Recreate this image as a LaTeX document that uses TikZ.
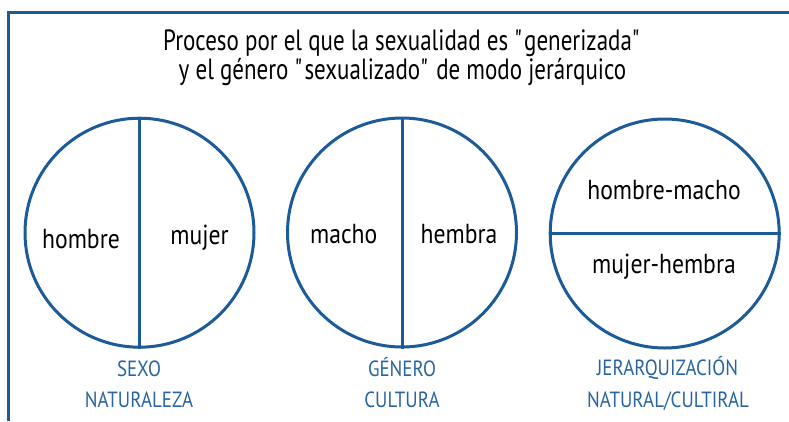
\documentclass[tikz,border=0pt]{standalone}
\usepackage{fontspec}
\setmainfont[FakeStretch=0.86]{PT Sans}
\newfontfamily\titlefont[FakeStretch=0.785]{PT Sans}
\definecolor{dblue}{RGB}{28,90,152}
\definecolor{lblue}{RGB}{40,100,160}
\begin{document}
\begin{tikzpicture}[x=1pt,y=-1pt,
  ring/.style={circle,draw=dblue,line width=3pt,minimum size=229pt,inner sep=0pt},
  divider/.style={draw=dblue,line width=3pt},
  frame/.style={draw=dblue,line width=2.5pt},
  title/.style={anchor=base,inner sep=0pt,font=\titlefont\fontsize{29.3}{32}\selectfont,text=black},
  intext/.style={anchor=base,inner sep=0pt,font=\fontsize{27.5}{30}\selectfont,text=black},
  caption/.style={anchor=base,inner sep=0pt,font=\fontsize{22}{26}\selectfont,text=lblue}]
\useasboundingbox (0,0) rectangle (789,421);
\coordinate (ftop) at (8.5,12.7);
\coordinate (fright) at (789,12.7);
\coordinate (fbot) at (8.5,421);
\draw[frame] (fright) -- (ftop) -- (fbot);
\node[title] (t1) at (402.5,50.7) {Proceso por el que la sexualidad es \textquotedbl generizada\textquotedbl};
\node[title] (t2) at (402.5,79.3) {y el género \textquotedbl sexualizado\textquotedbl\ de modo jerárquico};
\node[ring] (c1) at (139.5,232.7) {};
\node[ring] (c2) at (402,232.5) {};
\node[ring] (c3) at (664.7,233.5) {};
\draw[divider] (c1.north) -- (c1.south);
\draw[divider] (c2.north) -- (c2.south);
\draw[divider] (c3.west) -- (c3.east);
\node[intext] (a1) at (81,248) {hombre};
\node[intext] (a2) at (199.5,244) {mujer};
\node[intext] (b1) at (343.7,243.3) {macho};
\node[intext] (b2) at (459,243.3) {hembra};
\node[intext] (d1) at (664,199.3) {hombre-macho};
\node[intext] (d2) at (664,273.3) {mujer-hembra};
\node[caption] (s1) at (139,376.7) {SEXO};
\node[caption] (s2) at (139,407.3) {NATURALEZA};
\node[caption] (g1) at (402,376.7) {GÉNERO};
\node[caption] (g2) at (402,407.3) {CULTURA};
\node[caption] (j1) at (667.5,375) {JERARQUIZACIÓN};
\node[caption] (j2) at (668,407.3) {NATURAL/CULTIRAL};
\end{tikzpicture}
\end{document}
